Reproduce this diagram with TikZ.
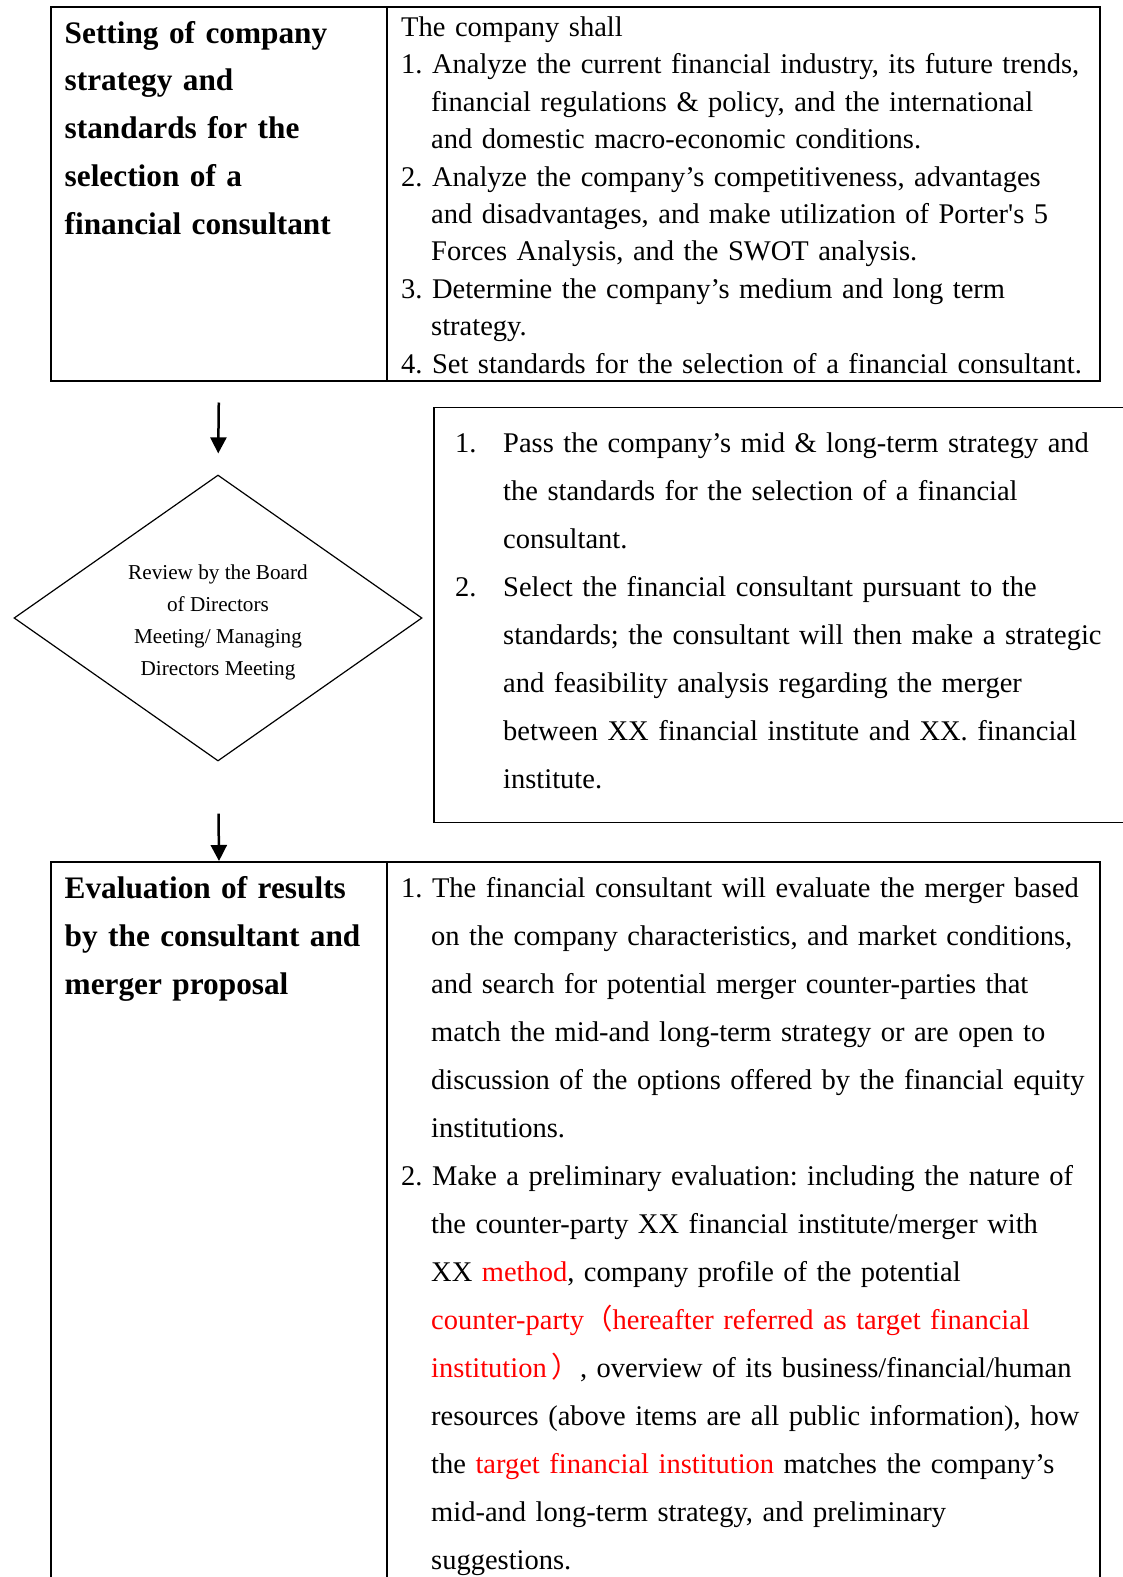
\documentclass[tikz,border=0pt]{standalone}
\usepackage{fontspec}
\newfontfamily\serif{Liberation Serif}
\newfontfamily\cjk{Noto Sans CJK SC}
\usetikzlibrary{arrows.meta,shapes.geometric}
\newcommand{\redtxt}[1]{\textcolor{red}{#1}}
\newcommand{\indentline}{\hspace*{30pt}}
\newcommand{\itemnum}[1]{\makebox[48pt][l]{#1}}
\frenchspacing
\hyphenpenalty=10000

\begin{document}
\begin{tikzpicture}[x=1pt,y=-1pt,
  cell/.style={draw, line width=2pt, anchor=north west, inner sep=0pt},
  txt/.style={anchor=base west, inner sep=0pt, align=left, text width=#1},
  arrow/.style={-{Triangle[length=16pt,width=16pt]}, line width=2.5pt}]
  \useasboundingbox (0,0) rectangle (1123,1577);
  % table cells and boxes
  \node[cell, minimum width=336pt, minimum height=374pt] (setcell) at (50,6) {};
  \node[cell, minimum width=713pt, minimum height=374pt] (setlist) at (386,6) {};
  \node[cell, line width=1.5pt, minimum width=720pt, minimum height=415pt] (passbox) at (433,406.5) {};
  \node[cell, minimum width=336pt, minimum height=760pt] (evalcell) at (50,861) {};
  \node[cell, minimum width=713pt, minimum height=760pt] (evallist) at (386,861) {};
  \node[diamond, draw, line width=1.2pt, minimum width=408pt, minimum height=286pt, inner sep=0pt,
    aspect=1.43] (review) at (218,618) {};
  \node[align=center, inner sep=0pt, font=\serif\fontsize{21.2}{32}\selectfont] (reviewtext)
    at ([yshift=-4pt]review.center) {Review by the Board\\of Directors\\Meeting/ Managing\\Directors Meeting};
  % texts
  \node[txt=320pt, font=\serif\bfseries\fontsize{31.3}{47.8}\selectfont] (settitle) at (64.5,43)
    {Setting of company\\strategy and\\standards for the\\selection of a\\financial consultant};
  \node[txt=710pt, font=\serif\fontsize{28.5}{37.4}\selectfont] (settasks) at (401,36.5)
    {The company shall\\
    1. Analyze the current financial industry, its future trends,\\
    \indentline financial regulations \& policy, and the international\\
    \indentline and domestic macro-economic conditions.\\
    2. Analyze the company’s competitiveness, advantages\\
    \indentline and disadvantages, and make utilization of Porter's 5\\
    \indentline Forces Analysis, and the SWOT analysis.\\
    3. Determine the company’s medium and long term\\
    \indentline strategy.\\
    4. Set standards for the selection of a financial consultant.};
  \node[txt=700pt, font=\serif\fontsize{28.5}{48}\selectfont] (passtasks) at (455,452)
    {\itemnum{1.}Pass the company’s mid \& long-term strategy and\\
    \itemnum{}the standards for the selection of a financial\\
    \itemnum{}consultant.\\
    \itemnum{2.}Select the financial consultant pursuant to the\\
    \itemnum{}standards; the consultant will then make a strategic\\
    \itemnum{}and feasibility analysis regarding the merger\\
    \itemnum{}between XX financial institute and XX. financial\\
    \itemnum{}institute.};
  \node[txt=320pt, font=\serif\bfseries\fontsize{31.3}{48}\selectfont] (evaltitle) at (64.5,898)
    {Evaluation of results\\by the consultant and\\merger proposal};
  \node[txt=720pt, font=\serif\fontsize{28.5}{48}\selectfont] (evaltasks) at (401,897)
    {1. The financial consultant will evaluate the merger based\\
    \indentline on the company characteristics, and market conditions,\\
    \indentline and search for potential merger counter-parties that\\
    \indentline match the mid-and long-term strategy or are open to\\
    \indentline discussion of the options offered by the financial equity\\
    \indentline institutions.\\
    2. Make a preliminary evaluation: including the nature of\\
    \indentline the counter-party XX financial institute/merger with\\
    \indentline XX \redtxt{method}, company profile of the potential\\
    \indentline \redtxt{counter-party{\cjk （}hereafter referred as target financial}\\
    \indentline \redtxt{institution\,{\cjk ）}}, overview of its business/financial/human\\
    \indentline resources (above items are all public information), how\\
    \indentline the \redtxt{target financial institution} matches the company’s\\
    \indentline mid-and long-term strategy, and preliminary\\
    \indentline suggestions.};
  % flow
  \draw[arrow, shorten <=20.5pt, shorten >=21pt] (setcell.south) -- (review.north);
  \draw[arrow, shorten <=52pt] (review.south) -- (evalcell.north);
\end{tikzpicture}
\end{document}
